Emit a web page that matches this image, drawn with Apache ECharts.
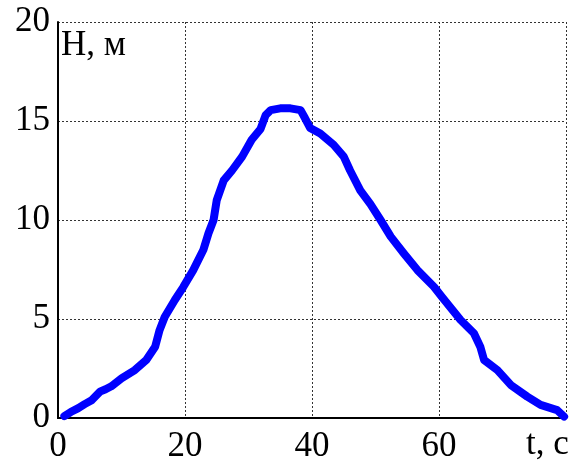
<!DOCTYPE html>
<html>
<head>
<meta charset="UTF-8">
<title></title>
<script src="https://cdn.jsdelivr.net/npm/echarts@6/dist/echarts.min.js"></script>
<style>
  html, body { margin: 0; padding: 0; background: #fff; }
  #main { width: 584px; height: 464px; }
</style>
</head>
<body>
<div id="main"></div>
<script>
// время, с
var tSec = [1.0, 2.0, 3.2, 4.2, 5.3, 6.6, 7.5, 8.4, 10.0, 12.1, 13.9, 15.3, 16.0, 16.8, 18.4,
  19.7, 21.3, 22.9, 23.7, 24.5, 25.0, 26.1, 27.4, 29.0, 30.5, 31.9, 32.7, 33.5, 35.0, 36.6,
  38.2, 38.8, 39.7, 41.3, 43.4, 45.0, 46.0, 47.6, 49.2, 50.8, 52.4, 54.5, 56.6, 59.2, 60.5,
  63.4, 65.5, 66.5, 67.1, 69.2, 71.3, 73.9, 76.0, 78.6, 79.7];
// высота, м
var hMeters = [0.1, 0.3, 0.5, 0.7, 0.9, 1.33, 1.45, 1.6, 2.0, 2.42, 2.93, 3.6, 4.44, 5.1, 5.96,
  6.6, 7.47, 8.5, 9.33, 10.0, 11.0, 12.0, 12.5, 13.2, 14.05, 14.6, 15.3, 15.55, 15.64, 15.64,
  15.55, 15.2, 14.65, 14.37, 13.8, 13.2, 12.5, 11.5, 10.8, 10.0, 9.16, 8.3, 7.47, 6.63, 6.1,
  4.95, 4.28, 3.6, 2.93, 2.42, 1.67, 1.08, 0.66, 0.4, 0.07];
var xTicks = [0, 20, 40, 60, 80];
var yTicks = [0, 5, 10, 15, 20];

var points = [];
for (var i = 0; i < tSec.length; i++) {
  points.push([tSec[i], hMeters[i]]);
}

var labelFont = {
  fontFamily: 'Liberation Serif',
  fontSize: 35,
  lineHeight: 35,
  color: '#000'
};

var myChart = echarts.init(document.getElementById('main'));
var option = {
  animation: false,
  grid: { left: 58, right: 18, top: 22, bottom: 46 },
  xAxis: [{
    type: 'value',
    min: xTicks[0],
    max: xTicks[xTicks.length - 1],
    interval: 20,
    axisLine: { show: true, onZero: false, lineStyle: { color: '#000', width: 2 } },
    axisTick: { show: false },
    axisLabel: Object.assign({
      margin: 11,
      formatter: function (v) { return v === 80 ? '' : String(v); }
    }, labelFont),
    splitLine: { show: true, lineStyle: { color: '#333', width: 1, type: [2, 2] } }
  }, {
    type: 'value',
    position: 'top',
    min: 0, max: 80,
    axisLine: { show: true, lineStyle: { color: '#000', width: 2 } },
    axisTick: { show: false },
    axisLabel: { show: false },
    splitLine: { show: false }
  }],
  yAxis: {
    type: 'value',
    min: yTicks[0],
    max: yTicks[yTicks.length - 1],
    interval: 5,
    axisLine: { show: true, onZero: false, lineStyle: { color: '#000', width: 2 } },
    axisTick: { show: false },
    axisLabel: Object.assign({ margin: 8 }, labelFont),
    splitLine: { show: true, lineStyle: { color: '#333', width: 1, type: [2, 2] } }
  },
  graphic: [{
    type: 'text',
    left: 61,
    top: 28,
    style: { text: 'H, м', font: '35px "Liberation Serif"', fill: '#000' }
  }, {
    type: 'text',
    left: 526,
    top: 427,
    style: { text: 't, c', font: '35px "Liberation Serif"', fill: '#000' }
  }],
  series: [{
    type: 'line',
    data: points,
    showSymbol: false,
    smooth: false,
    lineStyle: { color: '#0000ff', width: 8, join: 'round', cap: 'round' },
    itemStyle: { color: '#0000ff' }
  }]
};
myChart.setOption(option);
</script>
</body>
</html>
